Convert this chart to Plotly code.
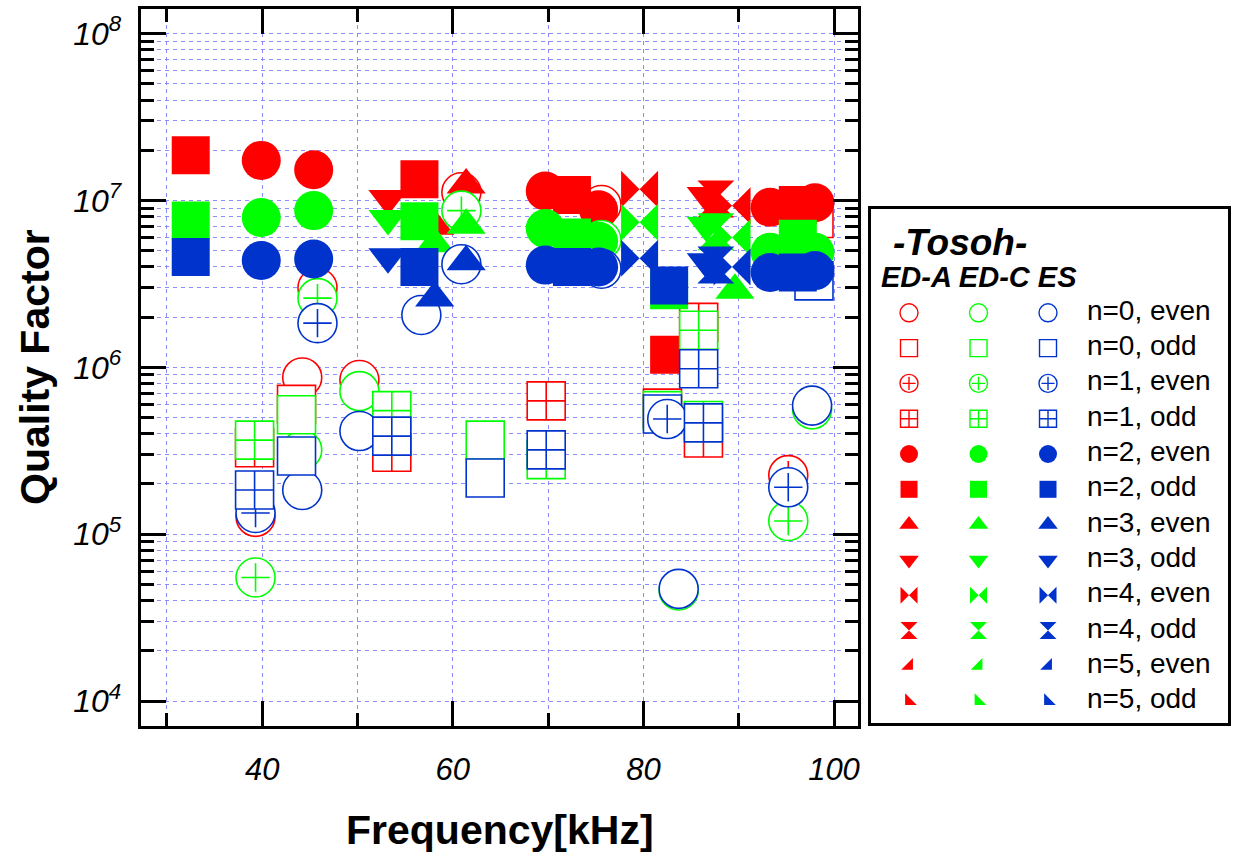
import plotly.graph_objects as go

# ---------------- data ----------------
MATERIALS = ["ED-A", "ED-C", "ES"]
COLORS = ["#ff0000", "#00ff00", "#0033cc"]
MODE_LABELS = ["n=0, even", "n=0, odd", "n=1, even", "n=1, odd",
               "n=2, even", "n=2, odd", "n=3, even", "n=3, odd",
               "n=4, even", "n=4, odd", "n=5, even", "n=5, odd"]
SYMBOLS = ["circle", "square", "circle+plus", "square-cross",
           "circle", "square", "triangle-up", "triangle-down",
           "bowtie", "hourglass", "triangle-se", "triangle-sw"]
HOLLOW = [True, True, True, True, False, False, False, False, False, False, False, False]

# (frequency kHz, quality factor) per material & mode
# ED-A (red)
eda_n0e = ([44.2, 50.2, 60.9, 75.6], [8.7e5, 8.4e5, 1.12e7, 9.4e6])
eda_n0o = ([43.6, 82.0, 97.9], [6.0e5, 5.7e5, 7.8e6])
eda_n1e = ([45.8, 39.3, 95.2], [3.0e6, 1.27e5, 2.26e5])
eda_n1o = ([39.2, 53.6, 69.8, 85.8, 86.3], [3.3e5, 3.1e5, 6.3e5, 1.86e6, 3.77e5])
eda_n2e = ([39.9, 45.4, 69.7, 75.3, 93.3, 98.0], [1.74e7, 1.53e7, 1.14e7, 8.8e6, 9.1e6, 9.7e6])
eda_n2o = ([32.5, 56.5, 72.5, 82.7, 96.2], [1.87e7, 1.34e7, 1.08e7, 1.19e6, 9.4e6])
eda_n3e = ([58.1, 61.4, 74.0], [7.0e6, 1.24e7, 9.5e6])
eda_n3o = ([53.2, 71.5, 86.6], [1.03e7, 1.05e7, 1.07e7])
eda_n4e = ([79.6, 89.3], [1.17e7, 9.3e6])
eda_n4o = ([87.6], [1.02e7])
eda_n5e = ([], [])
eda_n5o = ([], [])

# ED-C (green)
edc_n0e = ([44.2, 50.2, 75.6, 83.7, 97.7], [3.2e5, 7.2e5, 5.8e6, 4.6e4, 5.6e5])
edc_n0o = ([43.6, 63.4, 82.0], [5.2e5, 3.66e5, 5.5e5])
edc_n1e = ([45.8, 39.3, 60.9, 95.2], [2.6e6, 5.5e4, 8.7e6, 1.2e5])
edc_n1o = ([39.2, 53.6, 69.8, 85.8, 86.3], [3.66e5, 5.5e5, 2.8e5, 1.67e6, 4.8e5])
edc_n2e = ([39.9, 45.4, 69.7, 75.3, 93.3, 98.0], [7.9e6, 8.7e6, 6.8e6, 5.7e6, 4.9e6, 4.9e6])
edc_n2o = ([32.5, 56.5, 72.5, 82.7, 96.2], [7.6e6, 7.5e6, 6.0e6, 2.9e6, 5.9e6])
edc_n3e = ([58.1, 61.4, 89.6], [5.5e6, 7.1e6, 2.9e6])
edc_n3o = ([53.2, 86.6], [7.8e6, 7.1e6])
edc_n4e = ([79.6, 89.3], [7.4e6, 6.0e6])
edc_n4o = ([87.6], [6.5e6])
edc_n5e = ([], [])
edc_n5o = ([], [])

# ES (blue)
es_n0e = ([44.2, 50.2, 56.7, 60.9, 75.6, 83.7, 97.7], [1.84e5, 4.15e5, 2.06e6, 4.15e6, 3.9e6, 4.7e4, 5.9e5])
es_n0o = ([43.6, 63.4, 82.0, 97.9], [2.94e5, 2.17e5, 5.25e5, 3.3e6])
es_n1e = ([45.8, 39.3, 82.5, 95.2], [1.84e6, 1.34e5, 4.9e5, 1.91e5])
es_n1o = ([39.2, 53.6, 69.8, 85.8, 86.3], [1.84e5, 3.87e5, 3.2e5, 9.8e5, 4.65e5])
es_n2e = ([39.9, 45.4, 69.7, 75.3, 93.3, 98.0], [4.37e6, 4.46e6, 4.1e6, 4.0e6, 3.7e6, 3.8e6])
es_n2o = ([32.5, 56.5, 72.5, 82.7, 96.2], [4.58e6, 4.0e6, 4.0e6, 3.1e6, 3.7e6])
es_n3e = ([58.1, 61.4], [2.6e6, 4.3e6])
es_n3o = ([53.2, 86.6], [4.6e6, 4.3e6])
es_n4e = ([79.6, 89.3], [4.5e6, 4.0e6])
es_n4o = ([87.6], [4.1e6])
es_n5e = ([], [])
es_n5o = ([], [])

SERIES = {
    "ED-A": [eda_n0e, eda_n0o, eda_n1e, eda_n1o, eda_n2e, eda_n2o,
             eda_n3e, eda_n3o, eda_n4e, eda_n4o, eda_n5e, eda_n5o],
    "ED-C": [edc_n0e, edc_n0o, edc_n1e, edc_n1o, edc_n2e, edc_n2o,
             edc_n3e, edc_n3o, edc_n4e, edc_n4o, edc_n5e, edc_n5o],
    "ES": [es_n0e, es_n0o, es_n1e, es_n1o, es_n2e, es_n2o,
           es_n3e, es_n3o, es_n4e, es_n4o, es_n5e, es_n5o],
}

X_MAJOR = [40, 60, 80, 100]
X_MINOR = [30, 50, 70, 90]
Y_MAJOR = [1e4, 1e5, 1e6, 1e7, 1e8]
Y_MAJOR_TEXT = ["10<sup>4</sup>", "10<sup>5</sup>", "10<sup>6</sup>", "10<sup>7</sup>", "10<sup>8</sup>"]

# ---------------- style ----------------
W, H = 1236, 852
FONT = "Liberation Sans, Arial, Helvetica, sans-serif"
GRID = "#8c8cff"
GRIDDASH = "4px,4px"
BIG = {"circle": 39, "square": 38, "circle+plus": 39, "square-cross": 38,
       "triangle-up": 34, "triangle-down": 34, "bowtie": 37, "hourglass": 37,
       "triangle-se": 30, "triangle-sw": 30}
SMALL = {"circle": 18, "square": 17, "circle+plus": 18, "square-cross": 17,
         "triangle-up": 17, "triangle-down": 17, "bowtie": 17, "hourglass": 17,
         "triangle-se": 13, "triangle-sw": 13}


def px_x(p):
    return p / W


def px_y(p):
    return 1 - p / H


def add_marks(fig, x, y, sym, size, col, hollow, lw, xa, ya):
    if sym == "circle+plus":
        fig.add_trace(go.Scatter(x=x, y=y, mode="markers", xaxis=xa, yaxis=ya,
                                 marker=dict(symbol="circle", size=size, color="white",
                                             line=dict(color=col, width=lw)),
                                 showlegend=False, hoverinfo="skip"))
        fig.add_trace(go.Scatter(x=x, y=y, mode="markers", xaxis=xa, yaxis=ya,
                                 marker=dict(symbol="cross-thin-open", size=size * 0.52,
                                             color=col, line=dict(color=col, width=lw)),
                                 showlegend=False, hoverinfo="skip"))
        return
    if hollow:
        marker = dict(symbol=sym, size=size, color="white", line=dict(color=col, width=lw))
    else:
        marker = dict(symbol=sym, size=size, color=col, line=dict(width=0))
    fig.add_trace(go.Scatter(x=x, y=y, mode="markers", marker=marker, xaxis=xa, yaxis=ya,
                             showlegend=False, hoverinfo="skip"))


fig = go.Figure()

# main plot markers
for mat, col in zip(MATERIALS, COLORS):
    for k, (f, q) in enumerate(SERIES[mat]):
        if not f:
            continue
        sym = SYMBOLS[k]
        add_marks(fig, f, q, sym, BIG[sym], col, HOLLOW[k], 1.6, "x", "y")

# custom legend (on its own axes)
rows = list(range(len(MODE_LABELS)))
for c, (mat, col) in enumerate(zip(MATERIALS, COLORS)):
    for k in rows:
        sym = SYMBOLS[k]
        add_marks(fig, [c], [k], sym, SMALL[sym], col, HOLLOW[k], 1.4, "x2", "y2")
fig.add_trace(go.Scatter(x=[2.56] * len(MODE_LABELS), y=rows, mode="text",
                         text=MODE_LABELS, textposition="middle right",
                         textfont=dict(family=FONT, size=28, color="black"),
                         showlegend=False, xaxis="x2", yaxis="y2", hoverinfo="skip"))

y_minor = [m * 10 ** e for e in range(4, 8) for m in range(2, 10)]

axis_common = dict(showline=True, linecolor="black", linewidth=3, mirror="ticks",
                   ticks="inside", tickcolor="black", tickwidth=2.5, ticklen=25,
                   showgrid=True, gridcolor=GRID, gridwidth=1, griddash=GRIDDASH,
                   zeroline=False, automargin=False)

fig.update_layout(
    width=W, height=H, autosize=False,
    margin=dict(l=0, r=0, t=0, b=0),
    paper_bgcolor="white", plot_bgcolor="white",
    showlegend=False,
    xaxis=dict(domain=[px_x(140.7), px_x(858.3)], range=[27.25, 102.55],
               tickvals=X_MAJOR, ticktext=[str(v) for v in X_MAJOR],
               tickfont=dict(family=FONT, size=31, color="black", style="italic"),
               ticklabelstandoff=14,
               minor=dict(tickvals=X_MINOR, ticks="inside", ticklen=13, tickwidth=2.5,
                          tickcolor="black", showgrid=True, gridcolor=GRID, gridwidth=1,
                          griddash=GRIDDASH),
               anchor="y", **axis_common),
    yaxis=dict(domain=[px_y(725.7), px_y(9)], type="log", range=[3.852, 8.148],
               tickvals=Y_MAJOR, ticktext=Y_MAJOR_TEXT,
               tickfont=dict(family=FONT, size=32, color="black", style="italic"),
               ticklabelstandoff=10,
               minor=dict(tickvals=y_minor, ticks="inside", ticklen=13, tickwidth=2.5,
                          tickcolor="black", showgrid=True, gridcolor=GRID, gridwidth=1,
                          griddash=GRIDDASH),
               anchor="x", **axis_common),
    xaxis2=dict(domain=[px_x(871), px_x(1228)], range=[-0.547, 4.59],
                showline=True, linecolor="black", linewidth=3, mirror=True,
                showgrid=False, zeroline=False, showticklabels=False, ticks="",
                anchor="y2", fixedrange=True),
    yaxis2=dict(domain=[px_y(723), px_y(209)], range=[11.62, -2.94],
                showline=True, linecolor="black", linewidth=3, mirror=True,
                showgrid=False, zeroline=False, showticklabels=False, ticks="",
                anchor="x2", fixedrange=True),
)

annotations = [
    dict(text="<b>Quality Factor</b>", x=px_x(35), y=px_y(367), xref="paper", yref="paper",
         textangle=-90, showarrow=False, font=dict(family=FONT, size=41, color="black"),
         xanchor="center", yanchor="middle"),
    dict(text="<b>Frequency[kHz]</b>", x=px_x(500), y=px_y(830), xref="paper", yref="paper",
         showarrow=False, font=dict(family=FONT, size=41, color="black"),
         xanchor="center", yanchor="middle"),
    dict(text="<b><i>-Tosoh-</i></b>", x=-0.26, y=-2.0, xref="x2", yref="y2",
         showarrow=False, font=dict(family=FONT, size=37, color="black"),
         xanchor="left", yanchor="middle"),
    dict(text="<b><i>ED-A ED-C ES</i></b>", x=-0.43, y=-1.0, xref="x2", yref="y2",
         showarrow=False, font=dict(family=FONT, size=29, color="black"),
         xanchor="left", yanchor="middle"),
]
fig.update_layout(annotations=annotations)

fig.write_html("out.html")
